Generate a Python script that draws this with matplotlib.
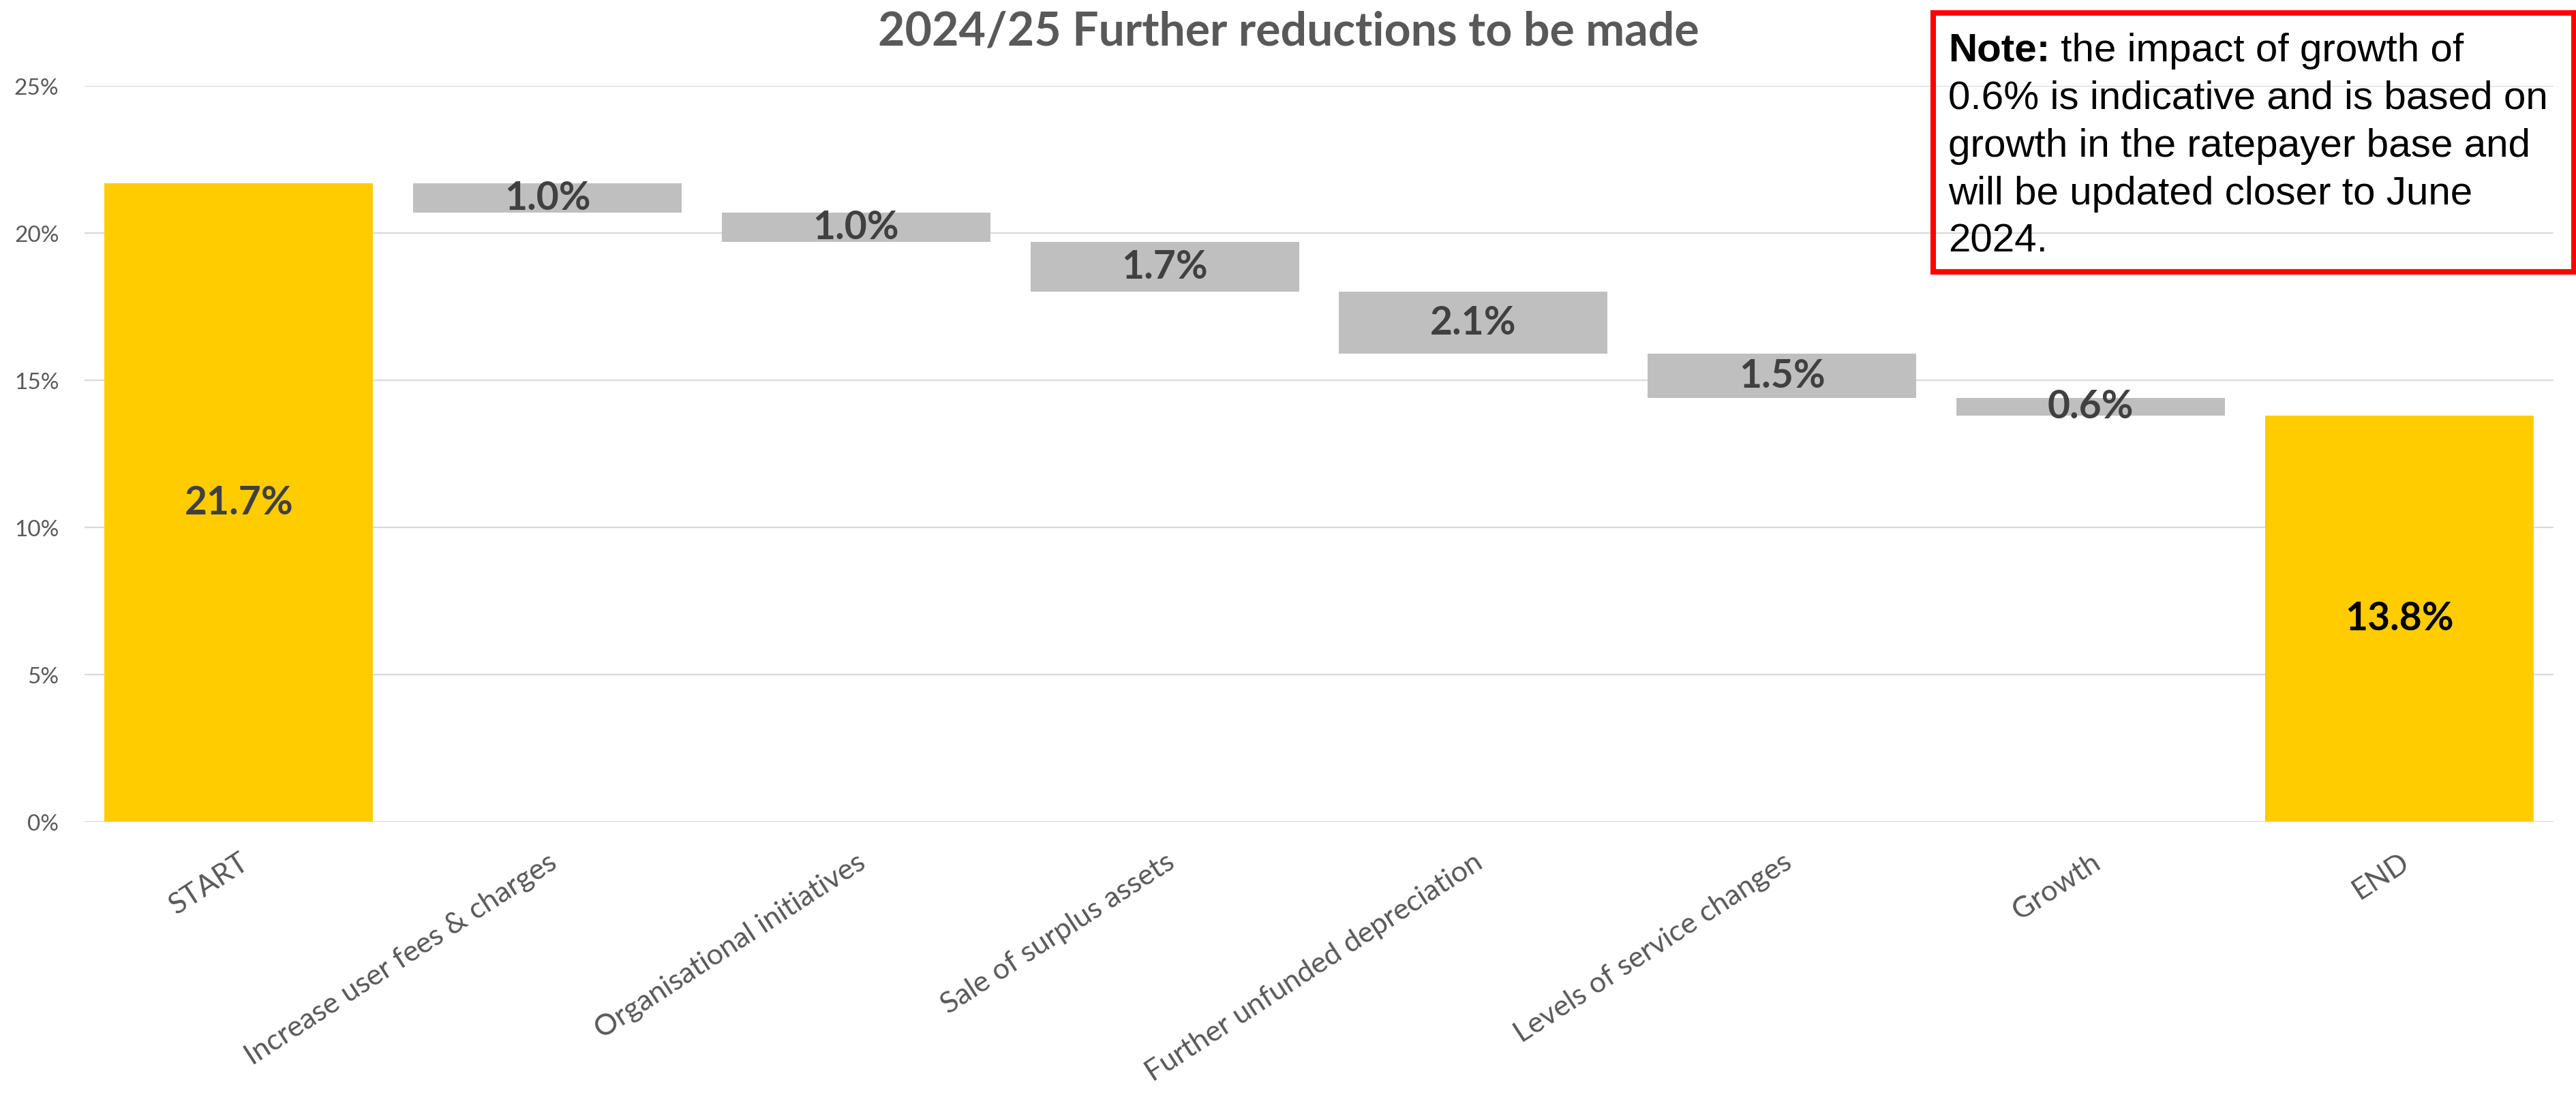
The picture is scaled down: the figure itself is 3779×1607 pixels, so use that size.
import numpy as np
import matplotlib
matplotlib.use("Agg")
import matplotlib.pyplot as plt
from matplotlib.patches import Rectangle
from matplotlib.ticker import FuncFormatter

# chart data
categories = ["START", "Increase user fees & charges", "Organisational initiatives",
              "Sale of surplus assets", "Further unfunded depreciation",
              "Levels of service changes", "Growth", "END"]
start_value = 21.7
reductions = [1.0, 1.0, 1.7, 2.1, 1.5, 0.6]
end_value = 13.8
yticks = [0, 5, 10, 15, 20, 25]

title = "2024/25 Further reductions to be made"
note_lines = ["0.6% is indicative and is based on",
              "growth in the ratepayer base and",
              "will be updated closer to June",
              "2024."]

YELLOW = "#FFCC00"
GREY = "#BFBFBF"
TXT = "#595959"

plt.rcParams['font.family'] = ['Lato', 'DejaVu Sans']

W, H = 3780, 1608
fig = plt.figure(figsize=(W / 100, H / 100), dpi=100)
ax = fig.add_axes([124 / W, 1 - 1207 / H, (3746 - 124) / W, (1207 - 127) / H])

# waterfall: floating bars hang down from the running total
running = start_value - np.concatenate([[0], np.cumsum(reductions)])
heights = [start_value] + reductions + [end_value]
bottoms = [0] + list(running[1:]) + [0]
colors = [YELLOW] + [GREY] * len(reductions) + [YELLOW]
x = np.arange(len(categories))

ax.bar(x, heights, bottom=bottoms, width=0.87, color=colors, zorder=2)

for i, (h, b) in enumerate(zip(heights, bottoms)):
    col = "black" if i == len(categories) - 1 else "#404040"
    ax.text(x[i], b + h / 2, f"{h:.1f}%", ha="center", va="center",
            fontsize=41, fontweight="bold", color=col, zorder=3)

ax.set_xlim(-0.5, len(categories) - 0.5)
ax.set_ylim(0, 25)
ax.set_yticks(yticks)
ax.yaxis.set_major_formatter(FuncFormatter(lambda v, p: f"{v:.0f}%"))
ax.yaxis.grid(True, color="#D9D9D9", linewidth=1.6, zorder=0)
ax.set_axisbelow(True)
for s in ax.spines.values():
    s.set_visible(False)
ax.tick_params(axis="y", length=0, pad=27, labelsize=24, labelcolor=TXT)
ax.tick_params(axis="x", length=0, pad=28, labelsize=31, labelcolor=TXT)
ax.set_xticks(x)
ax.set_xticklabels(categories, rotation=33, ha="right", va="top",
                   rotation_mode="anchor")

fig.text(0.5, 1 - 67 / H, title, ha="center", va="baseline", fontsize=49,
         fontweight="bold", color=TXT)

# note box
fig.patches.append(Rectangle((2836 / W, 1 - 400 / H), 940 / W, 380 / H,
                             transform=fig.transFigure, fill=False,
                             edgecolor="#FF0000", linewidth=5.8, zorder=5))
nx = 2858 / W
t1 = fig.text(nx, 1 - 90 / H, "Note:", family=["Liberation Sans"],
              fontweight="bold", fontsize=42, va="baseline", color="black")
ax.annotate(" the impact of growth of", xy=(1, 0), xycoords=t1,
            va="bottom", ha="left", family=["Liberation Sans"],
            fontsize=42, color="black", annotation_clip=False)
for k, line in enumerate(note_lines):
    fig.text(nx, 1 - (160 + 70 * k) / H, line, family=["Liberation Sans"],
             fontsize=42, va="baseline", color="black")

fig.savefig("out.png", dpi=100, facecolor="white")
